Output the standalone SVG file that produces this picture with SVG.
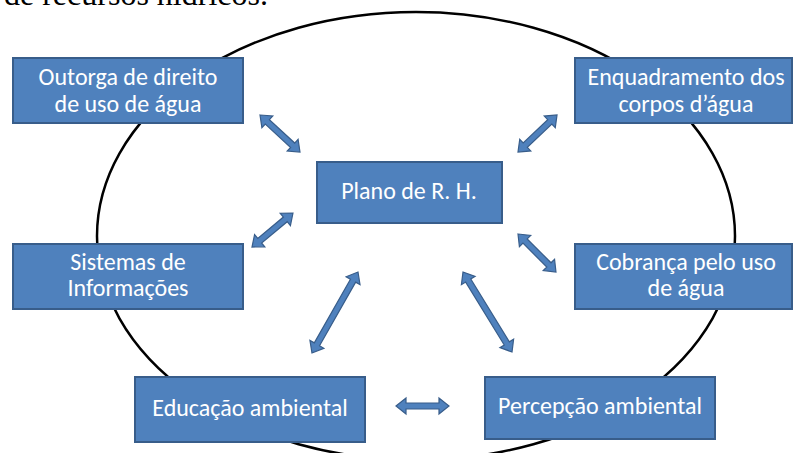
<svg xmlns="http://www.w3.org/2000/svg" width="795" height="453" viewBox="0 0 795 453">
<style>
.box{fill:#4F81BD;stroke:#385D8A;stroke-width:2}
.lbl{fill:#ffffff;font-family:Carlito,Calibri,"Liberation Sans",Arial,sans-serif;font-size:24px;text-anchor:middle}
.arr{fill:#4F81BD;stroke:#385D8A;stroke-width:1.2;stroke-linejoin:miter}
.ring{fill:none;stroke:#000000;stroke-width:2.5}
.cap{font-family:"Liberation Serif","Times New Roman",serif;font-size:32px;fill:#000000}
</style>
<rect width="795" height="453" fill="#ffffff"/>
<text class="cap" x="4" y="5">de recursos hídricos.</text>
<ellipse class="ring" cx="416" cy="236" rx="319" ry="224"/>
<g id="connectors">
<g transform="translate(260,115) rotate(42.8)"><polygon class="arr" points="0,0 10,-8 10,-3 44.5,-3 44.5,-8 54.5,0 44.5,8 44.5,3 10,3 10,8"/></g>
<g transform="translate(518,152) rotate(-43.5)"><polygon class="arr" points="0,0 10,-8 10,-3 43.8,-3 43.8,-8 53.8,0 43.8,8 43.8,3 10,3 10,8"/></g>
<g transform="translate(293,213) rotate(140.3)"><polygon class="arr" points="0,0 10,-8 10,-3 43.3,-3 43.3,-8 53.3,0 43.3,8 43.3,3 10,3 10,8"/></g>
<g transform="translate(518,234) rotate(45)"><polygon class="arr" points="0,0 10,-8 10,-3 43.7,-3 43.7,-8 53.7,0 43.7,8 43.7,3 10,3 10,8"/></g>
<g transform="translate(358,272) rotate(119.6)"><polygon class="arr" points="0,0 10,-8 10,-3 83.2,-3 83.2,-8 93.2,0 83.2,8 83.2,3 10,3 10,8"/></g>
<g transform="translate(463,272) rotate(58.5)"><polygon class="arr" points="0,0 10,-8 10,-3 83.8,-3 83.8,-8 93.8,0 83.8,8 83.8,3 10,3 10,8"/></g>
<g transform="translate(396,406)"><polygon class="arr" points="0,0 10,-8 10,-3 43,-3 43,-8 53,0 43,8 43,3 10,3 10,8"/></g>
</g>
<g id="outorga">
<rect class="box" x="13" y="58" width="230" height="65"/>
<text class="lbl" x="128" y="85">Outorga de direito</text>
<text class="lbl" x="128" y="112">de uso de água</text>
</g>
<g id="enquadramento">
<rect class="box" x="575" y="58" width="217" height="65"/>
<text class="lbl" x="686" y="85">Enquadramento dos</text>
<text class="lbl" x="686" y="112">corpos d’água</text>
</g>
<g id="plano">
<rect class="box" x="317" y="162" width="185" height="61"/>
<text class="lbl" x="409" y="199">Plano de R. H.</text>
</g>
<g id="sistemas">
<rect class="box" x="13" y="244" width="230" height="65"/>
<text class="lbl" x="128" y="270">Sistemas de</text>
<text class="lbl" x="128" y="296">Informações</text>
</g>
<g id="cobranca">
<rect class="box" x="575" y="244" width="217" height="65"/>
<text class="lbl" x="686" y="270">Cobrança pelo uso</text>
<text class="lbl" x="686" y="296">de água</text>
</g>
<g id="educacao">
<rect class="box" x="135" y="377" width="230" height="65"/>
<text class="lbl" x="250" y="416">Educação ambiental</text>
</g>
<g id="percepcao">
<rect class="box" x="485" y="377" width="230" height="62"/>
<text class="lbl" x="600" y="414">Percepção ambiental</text>
</g>
</svg>
